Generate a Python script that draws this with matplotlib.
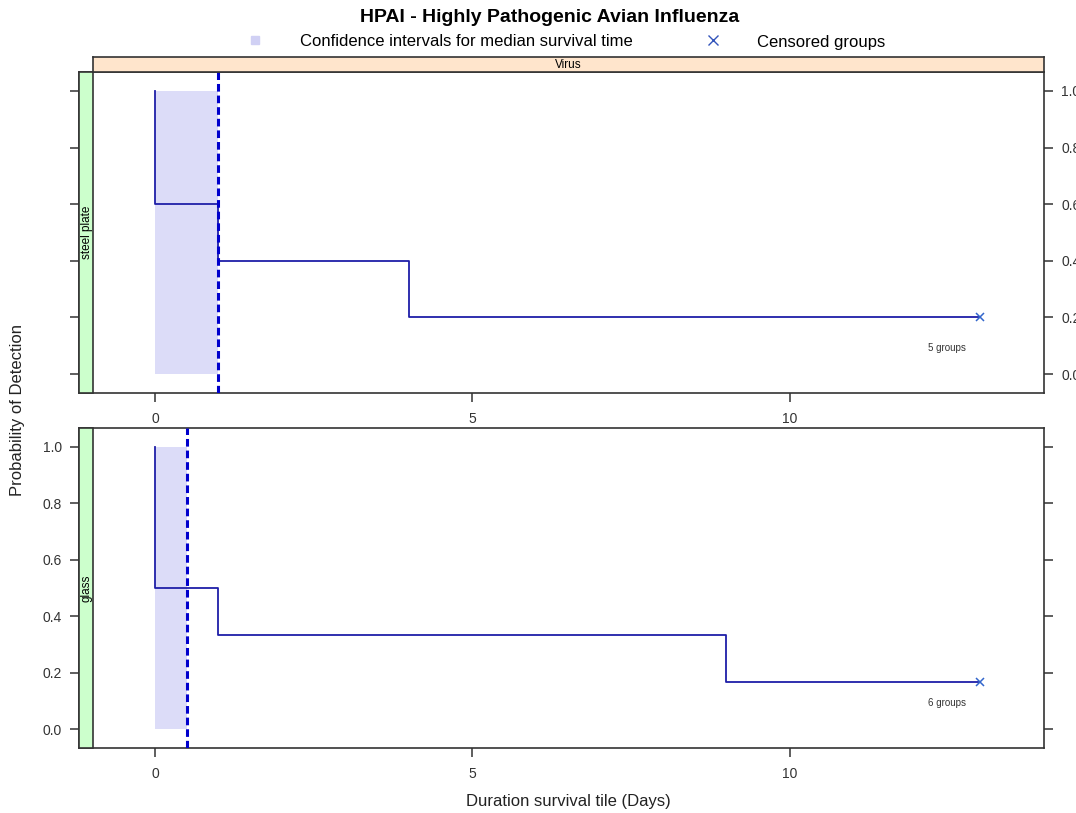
import matplotlib.pyplot as plt
from matplotlib.lines import Line2D
from matplotlib.patches import Rectangle

plt.rcParams['font.family'] = ['Liberation Sans', 'DejaVu Sans']

# survival curves per surface (Kaplan-Meier steps)
panels = ["steel plate", "glass"]
steel_time = [0, 0, 1, 4, 13]
steel_surv = [1.0, 0.6, 0.4, 0.2, 0.2]
glass_time = [0, 0, 1, 9, 13]
glass_surv = [1.0, 0.5, 0.333, 0.167, 0.167]

# median survival time and its confidence interval
median_time = [1.0, 0.5]
ci_low = [0.0, 0.0]
ci_high = [1.0, 0.5]
ci_prob = [0.0, 1.0]

censor_time = [13, 13]
censor_surv = [0.2, 0.167]
group_labels = ["5 groups", "6 groups"]

x_ticks = [0, 5, 10]
y_ticks = [0.0, 0.2, 0.4, 0.6, 0.8, 1.0]

W, H = 1076, 813
fig = plt.figure(figsize=(W / 100, H / 100), dpi=100)


def fig_rect(x0, y0, x1, y1):
    return [x0 / W, 1 - y1 / H, (x1 - x0) / W, (y1 - y0) / H]


line_col = "#1f1fa8"
dash_col = "#0000cc"
ci_col = "#dcdcf8"
edge_col = "#333333"
strip_w = 14 / 965

curves = [(steel_time, steel_surv), (glass_time, glass_surv)]
boxes = [(72, 393), (428, 748)]

for i, (name, (tt, ss), (top, bot)) in enumerate(zip(panels, curves, boxes)):
    ax = fig.add_axes(fig_rect(79, top, 1044, bot))
    ax.set_xlim(-1.195, 14.0)
    ax.set_ylim(-0.067, 1.067)

    ax.fill_between([ci_low[i], ci_high[i]], ci_prob[0], ci_prob[1],
                    color=ci_col, lw=0, zorder=1)
    ax.step(tt, ss, where="post", color=line_col, lw=1.3, zorder=3)
    ax.axvline(median_time[i], color=dash_col, lw=2.2, ls=(0, (2.5, 1.3)),
               zorder=4)
    ax.plot(censor_time[i], censor_surv[i], "x", color="#3366cc", ms=6,
            mew=1.1, zorder=5)
    ax.text(12.47, 0.092, group_labels[i], fontsize=7, color="#333333",
            ha="center", va="center")

    # green strip on the left with the surface name
    ax.add_patch(Rectangle((0, 0), strip_w, 1, transform=ax.transAxes,
                           facecolor="#ccffcc", edgecolor=edge_col, lw=1.2,
                           zorder=6, clip_on=False))
    ax.text(strip_w / 2 + 0.001, 0.5, name, transform=ax.transAxes,
            rotation=90, ha="center", va="center", fontsize=8.5, zorder=7)

    for sp in ax.spines.values():
        sp.set_color(edge_col)
        sp.set_linewidth(1.2)

    ax.set_xticks(x_ticks)
    ax.set_yticks(y_ticks)
    ax.tick_params(axis="both", direction="out", length=6.5, width=1.1,
                   color=edge_col, labelsize=10, labelcolor="#333333")
    ax.tick_params(axis="x", top=False, pad=7)
    ax.tick_params(axis="y", left=True, right=True, pad=6)
    ax.yaxis.set_major_formatter(plt.FuncFormatter(lambda v, p: f"{v:.1f}"))
    if i == 0:
        ax.tick_params(axis="y", labelleft=False, labelright=True)
    else:
        ax.tick_params(axis="y", labelleft=True, labelright=False)

# strip across the top
sax = fig.add_axes(fig_rect(93, 57, 1044, 72))
sax.set_facecolor("#ffe5cc")
sax.set_xticks([])
sax.set_yticks([])
for sp in sax.spines.values():
    sp.set_color(edge_col)
    sp.set_linewidth(1.2)
sax.text(0.5, 0.45, "Virus", transform=sax.transAxes, ha="center",
         va="center", fontsize=8.5)

fig.text(550 / W, 1 - 17 / H, "HPAI - Highly Pathogenic Avian Influenza",
         ha="center", va="center", fontsize=14, fontweight="bold")

# key
fig.add_artist(Line2D([255 / W], [1 - 40 / H], marker="s", ms=5.5,
                      color="#d0d0f4", ls="none", transform=fig.transFigure))
fig.text(300 / W, 1 - 42 / H, "Confidence intervals for median survival time",
         ha="left", va="center", fontsize=12)
fig.add_artist(Line2D([713 / W], [1 - 40 / H], marker="x", ms=7, mew=1,
                      color="#3355bb", ls="none", transform=fig.transFigure))
fig.text(757 / W, 1 - 42 / H, "Censored groups", ha="left", va="center",
         fontsize=12)

fig.text(18 / W, 1 - 410 / H, "Probability of Detection", rotation=90,
         ha="center", va="center", fontsize=12, color="#222222")
fig.text(568 / W, 1 - 801 / H, "Duration survival tile (Days)",
         ha="center", va="center", fontsize=12, color="#222222")

fig.savefig("out.png", dpi=100)
